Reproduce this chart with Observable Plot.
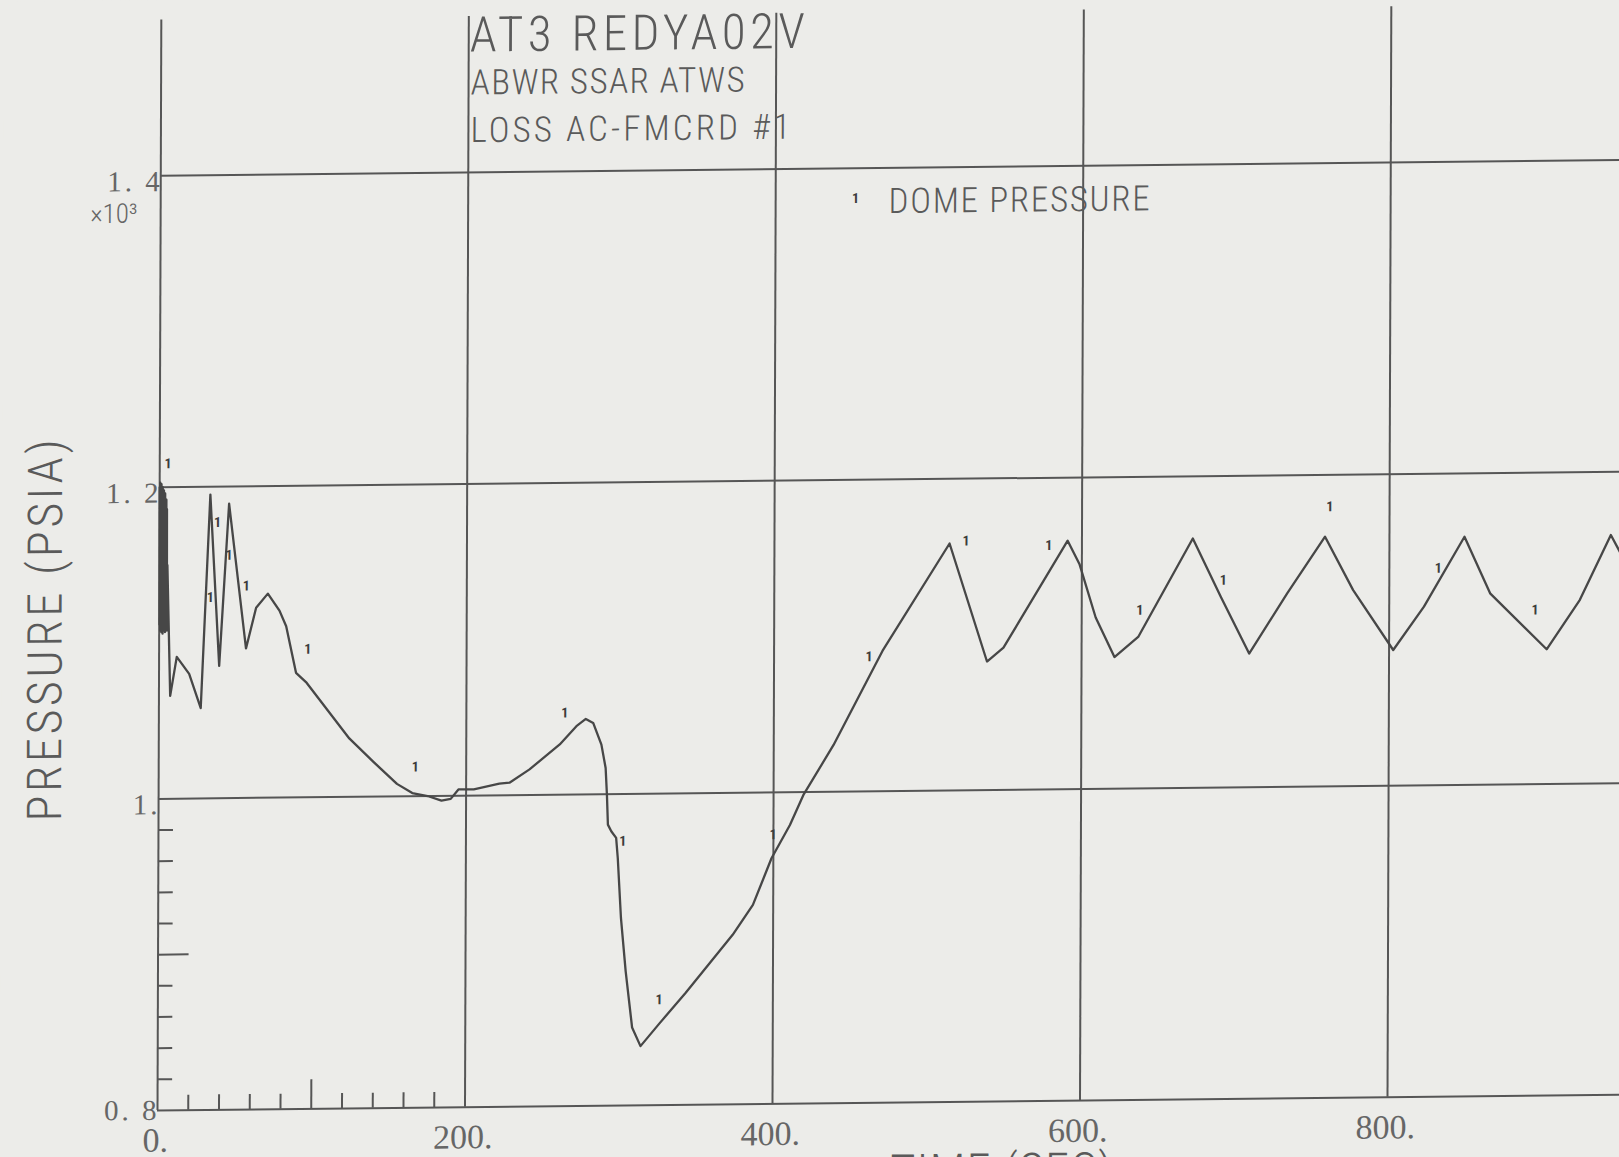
<!DOCTYPE html>
<html>
<head>
<meta charset="utf-8">
<script src="https://cdn.jsdelivr.net/npm/d3@7"></script>
<script src="https://cdn.jsdelivr.net/npm/@observablehq/plot@0.6"></script>
<style>
  html, body { margin: 0; padding: 0; background: #ecece9; overflow: hidden; }
  #chart svg {
    display: block;
    max-width: none !important;
    /* the plotted sheet sits slightly askew on the page */
    transform-origin: 157px 1110px;
    transform: matrix(1, -0.0107, -0.0035, 1, 0, 0);
  }
  g[aria-description="y-ticks"] text { letter-spacing: 3px; }
</style>
</head>
<body>
<div id="chart"></div>
<script>
// Dome pressure trace, time in seconds, pressure in 10^3 psia
const timeSec = [
  0, 0.2, 0.4, 0.6, 0.8, 1.0, 1.2, 1.4, 1.6, 1.8,
  2.0, 2.2, 2.4, 2.6, 2.8, 3.0, 3.2, 3.4, 3.6, 3.8,
  4.0, 4.2, 4.4, 4.6, 4.8, 5.0, 5.2,
  7.3, 11.5, 19.6, 27.2, 33.0, 39.1, 45.2, 56.5, 63.0, 70.6,
  78.2, 82.6, 89.1, 95.6, 123.9, 140, 155, 165, 175, 184,
  190, 195, 205, 221.6, 228.2, 241.2, 260.8, 271.6, 277.7, 282.5,
  287.9, 290.7, 291.6, 292.3, 294.5, 297.7, 298.8, 301.0, 304.2, 308.5,
  314.0, 325.9, 343.3, 373.7, 386.8, 398.8, 410.7, 419.4, 438.9, 470.5,
  513.9, 538.5, 549.2, 590.7, 598.4, 609.1, 621.4, 636.8, 672.1, 690.5,
  709.0, 733.6, 758.1, 776.5, 802.7, 822.6, 848.8, 865.6, 902.5, 924.0,
  944.0, 955.0
];
const domePressure = [
  1.200, 1.112, 1.203, 1.108, 1.199, 1.110, 1.202, 1.107, 1.197, 1.112,
  1.200, 1.106, 1.195, 1.110, 1.198, 1.108, 1.193, 1.113, 1.196, 1.107,
  1.190, 1.112, 1.192, 1.110, 1.186, 1.108, 1.150,
  1.066, 1.091, 1.080, 1.058, 1.195, 1.085, 1.189, 1.096, 1.122, 1.131,
  1.120, 1.110, 1.080, 1.074, 1.0375, 1.022, 1.008, 1.002, 1.000, 0.997,
  0.998, 1.004, 1.004, 1.0074, 1.008, 1.0164, 1.0322, 1.0438, 1.0484, 1.0458,
  1.0318, 1.0168, 0.9997, 0.9804, 0.9761, 0.9718, 0.9589, 0.9204, 0.8861, 0.8500,
  0.8380, 0.8520, 0.8720, 0.9088, 0.9279, 0.9577, 0.9789, 0.9981, 1.0300, 1.0900,
  1.1585, 1.0825, 1.0913, 1.1595, 1.1445, 1.110, 1.0845, 1.0972, 1.1600, 1.1223,
  1.0858, 1.1241, 1.1603, 1.1258, 1.0871, 1.1147, 1.1593, 1.1228, 1.0865, 1.1180,
  1.1594, 1.139
];

// Curve symbol "1" placements along the trace
const markerTime = [5.4, 33.2, 37.7, 45.2, 56.5, 96.7, 166.9, 264, 302, 326,
  399.8, 461.8, 524.6, 578.4, 637.7, 692.1, 761.2, 831.9, 894.8];
const markerPressure = [1.215, 1.129, 1.177, 1.156, 1.136, 1.095, 1.0187, 1.0524, 0.9696, 0.8677,
  0.9727, 1.0863, 1.1600, 1.1565, 1.1143, 1.1330, 1.1795, 1.1392, 1.1118];

const xTicks = [0, 200, 400, 600, 800];
const xTickLabels = ["0.", "200.", "400.", "600.", "800."];
const yTicks = [0.8, 1.0, 1.2, 1.4];
const yTickLabels = ["0. 8", "1.", "1. 2", "1. 4"];
const xMinorTicks = [20, 40, 60, 80, 120, 140, 160, 180];
const xMidTicks = [100];
const yMinorTicks = [0.82, 0.84, 0.86, 0.88, 0.92, 0.94, 0.96, 0.98];
const yMidTicks = [0.9];

const titleLines = ["AT3 REDYA02V", "ABWR SSAR ATWS", "LOSS AC-FMCRD #1"];
const seriesName = "DOME PRESSURE";
const seriesSymbol = "1";
const xLabel = "TIME (SEC)";
const yLabel = "PRESSURE (PSIA)";
const yExponent = "×10³";

// Sheet geometry
const W = 1630, H = 1185;
const mL = 157, mR = 0, mT = 19.4, mB = 75;
const xPerSec = 1.5375;                       // pixels per second
const yDomain = [0.8, 1.5];
const xDomain = [0, (W - mL - mR) / xPerSec];
const yPerUnit = (H - mT - mB) / (yDomain[1] - yDomain[0]);

const ink = "#565656";
const textInk = "#5a5a5a";
const labelInk = "#666666";
const sans = "'Roboto Condensed', 'Open Sans Condensed', 'DejaVu Sans Condensed', sans-serif";
const serif = "'Liberation Serif', 'DejaVu Serif', serif";

const trace = timeSec.map((t, i) => ({t, p: domePressure[i]}));
const markers = markerTime.map((t, i) => ({t, p: markerPressure[i]}));
const yLabelled = yTicks.map((v, i) => ({v, label: yTickLabels[i]}));

const chart = Plot.plot({
  width: W,
  height: H,
  marginLeft: mL,
  marginRight: mR,
  marginTop: mT,
  marginBottom: mB,
  style: {background: "#ecece9", overflow: "hidden"},
  x: {domain: xDomain, axis: null},
  y: {domain: yDomain, axis: null},
  marks: [
    // grid and axis lines
    Plot.ruleY(yTicks, {y: d => d, x1: 0, x2: xDomain[1], stroke: ink, strokeWidth: 2}),
    Plot.ruleX(xTicks, {x: d => d, y1: yDomain[0], y2: yDomain[1], stroke: ink, strokeWidth: 2}),
    // inward minor ticks
    Plot.ruleY(yMinorTicks, {y: d => d, x1: 0, x2: 15 / xPerSec, stroke: ink, strokeWidth: 2}),
    Plot.ruleY(yMidTicks, {y: d => d, x1: 0, x2: 31 / xPerSec, stroke: ink, strokeWidth: 2}),
    Plot.ruleX(xMinorTicks, {x: d => d, y1: yDomain[0], y2: yDomain[0] + 15 / yPerUnit, stroke: ink, strokeWidth: 2}),
    Plot.ruleX(xMidTicks, {x: d => d, y1: yDomain[0], y2: yDomain[0] + 29 / yPerUnit, stroke: ink, strokeWidth: 2}),
    // tick labels (the bottom one sits on the axis line, the others just under their grid lines)
    Plot.text(yLabelled.filter(d => d.v === yDomain[0]), {x: 0, y: "v", text: "label", textAnchor: "end", lineAnchor: "middle",
      dx: 2, dy: 0, fontFamily: serif, fontSize: 29, fill: labelInk, ariaDescription: "y-ticks"}),
    Plot.text(yLabelled.filter(d => d.v !== yDomain[0]), {x: 0, y: "v", text: "label", textAnchor: "end", lineAnchor: "middle",
      dx: 2, dy: 6, fontFamily: serif, fontSize: 29, fill: labelInk, ariaDescription: "y-ticks"}),
    Plot.text([yExponent], {x: 0, y: 1.4, text: d => d, textAnchor: "end", lineAnchor: "middle",
      dx: -23, dy: 38, fontFamily: sans, fontWeight: 300, fontSize: 27, fill: labelInk}),
    Plot.text(xTicks, {x: d => d, y: yDomain[0], text: (d, i) => xTickLabels[i], textAnchor: "middle", lineAnchor: "top",
      dx: -2, dy: 17, fontFamily: serif, fontSize: 34, fill: labelInk}),
    // axis titles
    Plot.text([yLabel], {frameAnchor: "left", text: d => d, rotate: -90, textAnchor: "middle", lineAnchor: "middle",
      dx: -113, dy: 64, fontFamily: sans, fontWeight: 300, fontSize: 48, fill: textInk}),
    Plot.text([xLabel], {frameAnchor: "bottom-left", text: d => d, textAnchor: "end", lineAnchor: "bottom",
      dx: 955, dy: 86, fontFamily: sans, fontWeight: 300, fontSize: 48, fill: textInk}),
    // run identification block
    Plot.text([titleLines[0]], {x: 200, frameAnchor: "top", text: d => d, textAnchor: "start", lineAnchor: "bottom",
      dx: 1, dy: 35, fontFamily: sans, fontWeight: 300, fontSize: 49, fill: textInk}),
    Plot.text([titleLines[1]], {x: 200, frameAnchor: "top", text: d => d, textAnchor: "start", lineAnchor: "bottom",
      dx: 2, dy: 78, fontFamily: sans, fontWeight: 300, fontSize: 35, fill: textInk}),
    Plot.text([titleLines[2]], {x: 200, frameAnchor: "top", text: d => d, textAnchor: "start", lineAnchor: "bottom",
      dx: 2, dy: 125.5, fontFamily: sans, fontWeight: 300, fontSize: 35, fill: textInk}),
    // legend
    Plot.text([seriesSymbol], {frameAnchor: "top-left", text: d => d, textAnchor: "middle", lineAnchor: "middle",
      dx: 695, dy: 186, fontFamily: sans, fontWeight: "bold", fontSize: 14, fill: "#3c3c3c"}),
    Plot.text([seriesName], {frameAnchor: "top-left", text: d => d, textAnchor: "start", lineAnchor: "bottom",
      dx: 728, dy: 201, fontFamily: sans, fontWeight: 300, fontSize: 35, fill: textInk}),
    // dome pressure trace and its symbols
    Plot.line(trace, {x: "t", y: "p", stroke: "#474747", strokeWidth: 2.3, strokeLinejoin: "round"}),
    Plot.text(markers, {x: "t", y: "p", text: () => seriesSymbol, textAnchor: "middle", lineAnchor: "middle",
      fontFamily: sans, fontWeight: "bold", fontSize: 14, fill: "#3c3c3c"})
  ]
});

// Plotter lettering is evenly spread to fixed run lengths
const runLengths = new Map([
  [titleLines[0], 335],
  [titleLines[1], 274],
  [titleLines[2], 320],
  [seriesName, 261],
  [yLabel, 382],
  [xLabel, 222]
]);
d3.select(chart).selectAll("text")
  .filter(function() { return runLengths.has(this.textContent); })
  .attr("textLength", function() { return runLengths.get(this.textContent); })
  .attr("lengthAdjust", "spacing");

document.getElementById("chart").append(chart);
</script>
</body>
</html>
